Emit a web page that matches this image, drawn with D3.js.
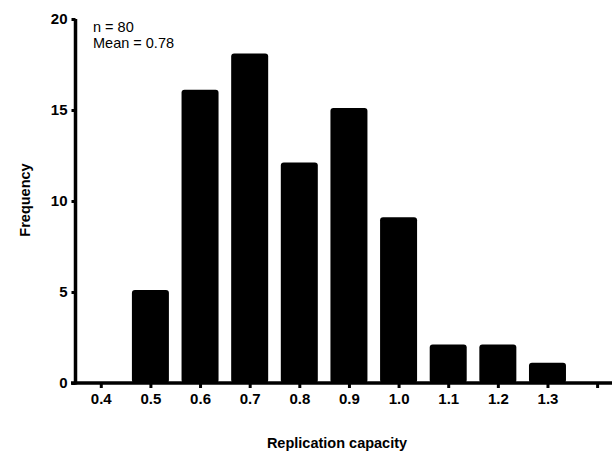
<!DOCTYPE html>
<html>
<head>
<meta charset="utf-8">
<script src="https://cdn.jsdelivr.net/npm/d3@7"></script>
<style>
  body { margin: 0; background: #fff; }
  svg text { font-family: "Liberation Sans", Arial, sans-serif; }
</style>
</head>
<body>
<svg id="chart" width="614" height="456"></svg>
<script>
// histogram bins (bin centres) and counts
var binCentres = [0.4, 0.5, 0.6, 0.7, 0.8, 0.9, 1.0, 1.1, 1.2, 1.3];
var frequencies = [0, 5, 16, 18, 12, 15, 9, 2, 2, 1];
var xTicks = [0.4, 0.5, 0.6, 0.7, 0.8, 0.9, 1.0, 1.1, 1.2, 1.3, 1.4];
var yTicks = [0, 5, 10, 15, 20];
var notes = ["n = 80", "Mean = 0.78"];

var svg = d3.select("#chart");

var x = d3.scaleLinear().domain([0.34, 1.43]).range([71, 612]);
var y = d3.scaleLinear().domain([0, 20]).range([383, 19]);
var barWidth = 37;

// bars
svg.append("g")
    .selectAll("rect")
    .data(binCentres.map(function (c, i) { return { c: c, v: frequencies[i] }; })
        .filter(function (d) { return d.v > 0; }))
    .enter().append("rect")
    .attr("x", function (d) { return x(d.c) - barWidth / 2; })
    .attr("y", function (d) { return y(d.v) - 2; })
    .attr("width", barWidth)
    .attr("height", function (d) { return y(0) - y(d.v) + 2; })
    .attr("rx", 3)
    .attr("fill", "#000");

// x axis
var xAxis = svg.append("g")
    .attr("transform", "translate(0," + y(0) + ")")
    .call(d3.axisBottom(x)
        .tickValues(xTicks)
        .tickSize(5)
        .tickPadding(5)
        .tickFormat(function (d) { return d > 1.35 ? "" : d3.format(".1f")(d); }));

// y axis
var yAxis = svg.append("g")
    .attr("transform", "translate(" + 75.5 + ",0)")
    .call(d3.axisLeft(y)
        .tickValues(yTicks)
        .tickSize(4)
        .tickPadding(4)
        .tickFormat(d3.format("d")));

[xAxis, yAxis].forEach(function (a) {
    a.select(".domain").attr("stroke", "#000").attr("stroke-width", 3.5);
    a.selectAll(".tick line").attr("stroke", "#000").attr("stroke-width", 3);
    a.selectAll(".tick text")
        .attr("fill", "#000")
        .style("font-size", "15px")
        .style("font-weight", "bold")
        .style("font-family", "'Liberation Sans', Arial, sans-serif");
});
// plain axis lines, no outer ticks
xAxis.select(".domain").attr("d", "M" + x.range()[0] + ",0H" + x.range()[1]);
yAxis.select(".domain").attr("d", "M0," + (y(0) + 1.5) + "V" + y(20));

// axis titles
svg.append("text")
    .attr("x", 337)
    .attr("y", 448)
    .attr("text-anchor", "middle")
    .style("font-size", "14.5px")
    .style("font-weight", "bold")
    .text("Replication capacity");

svg.append("text")
    .attr("transform", "translate(30,200) rotate(-90)")
    .attr("text-anchor", "middle")
    .style("font-size", "14.5px")
    .style("font-weight", "bold")
    .text("Frequency");

// annotation
svg.append("g")
    .selectAll("text")
    .data(notes)
    .enter().append("text")
    .attr("x", 93)
    .attr("y", function (d, i) { return 32 + i * 16; })
    .style("font-size", "14.5px")
    .text(function (d) { return d; });
</script>
</body>
</html>
